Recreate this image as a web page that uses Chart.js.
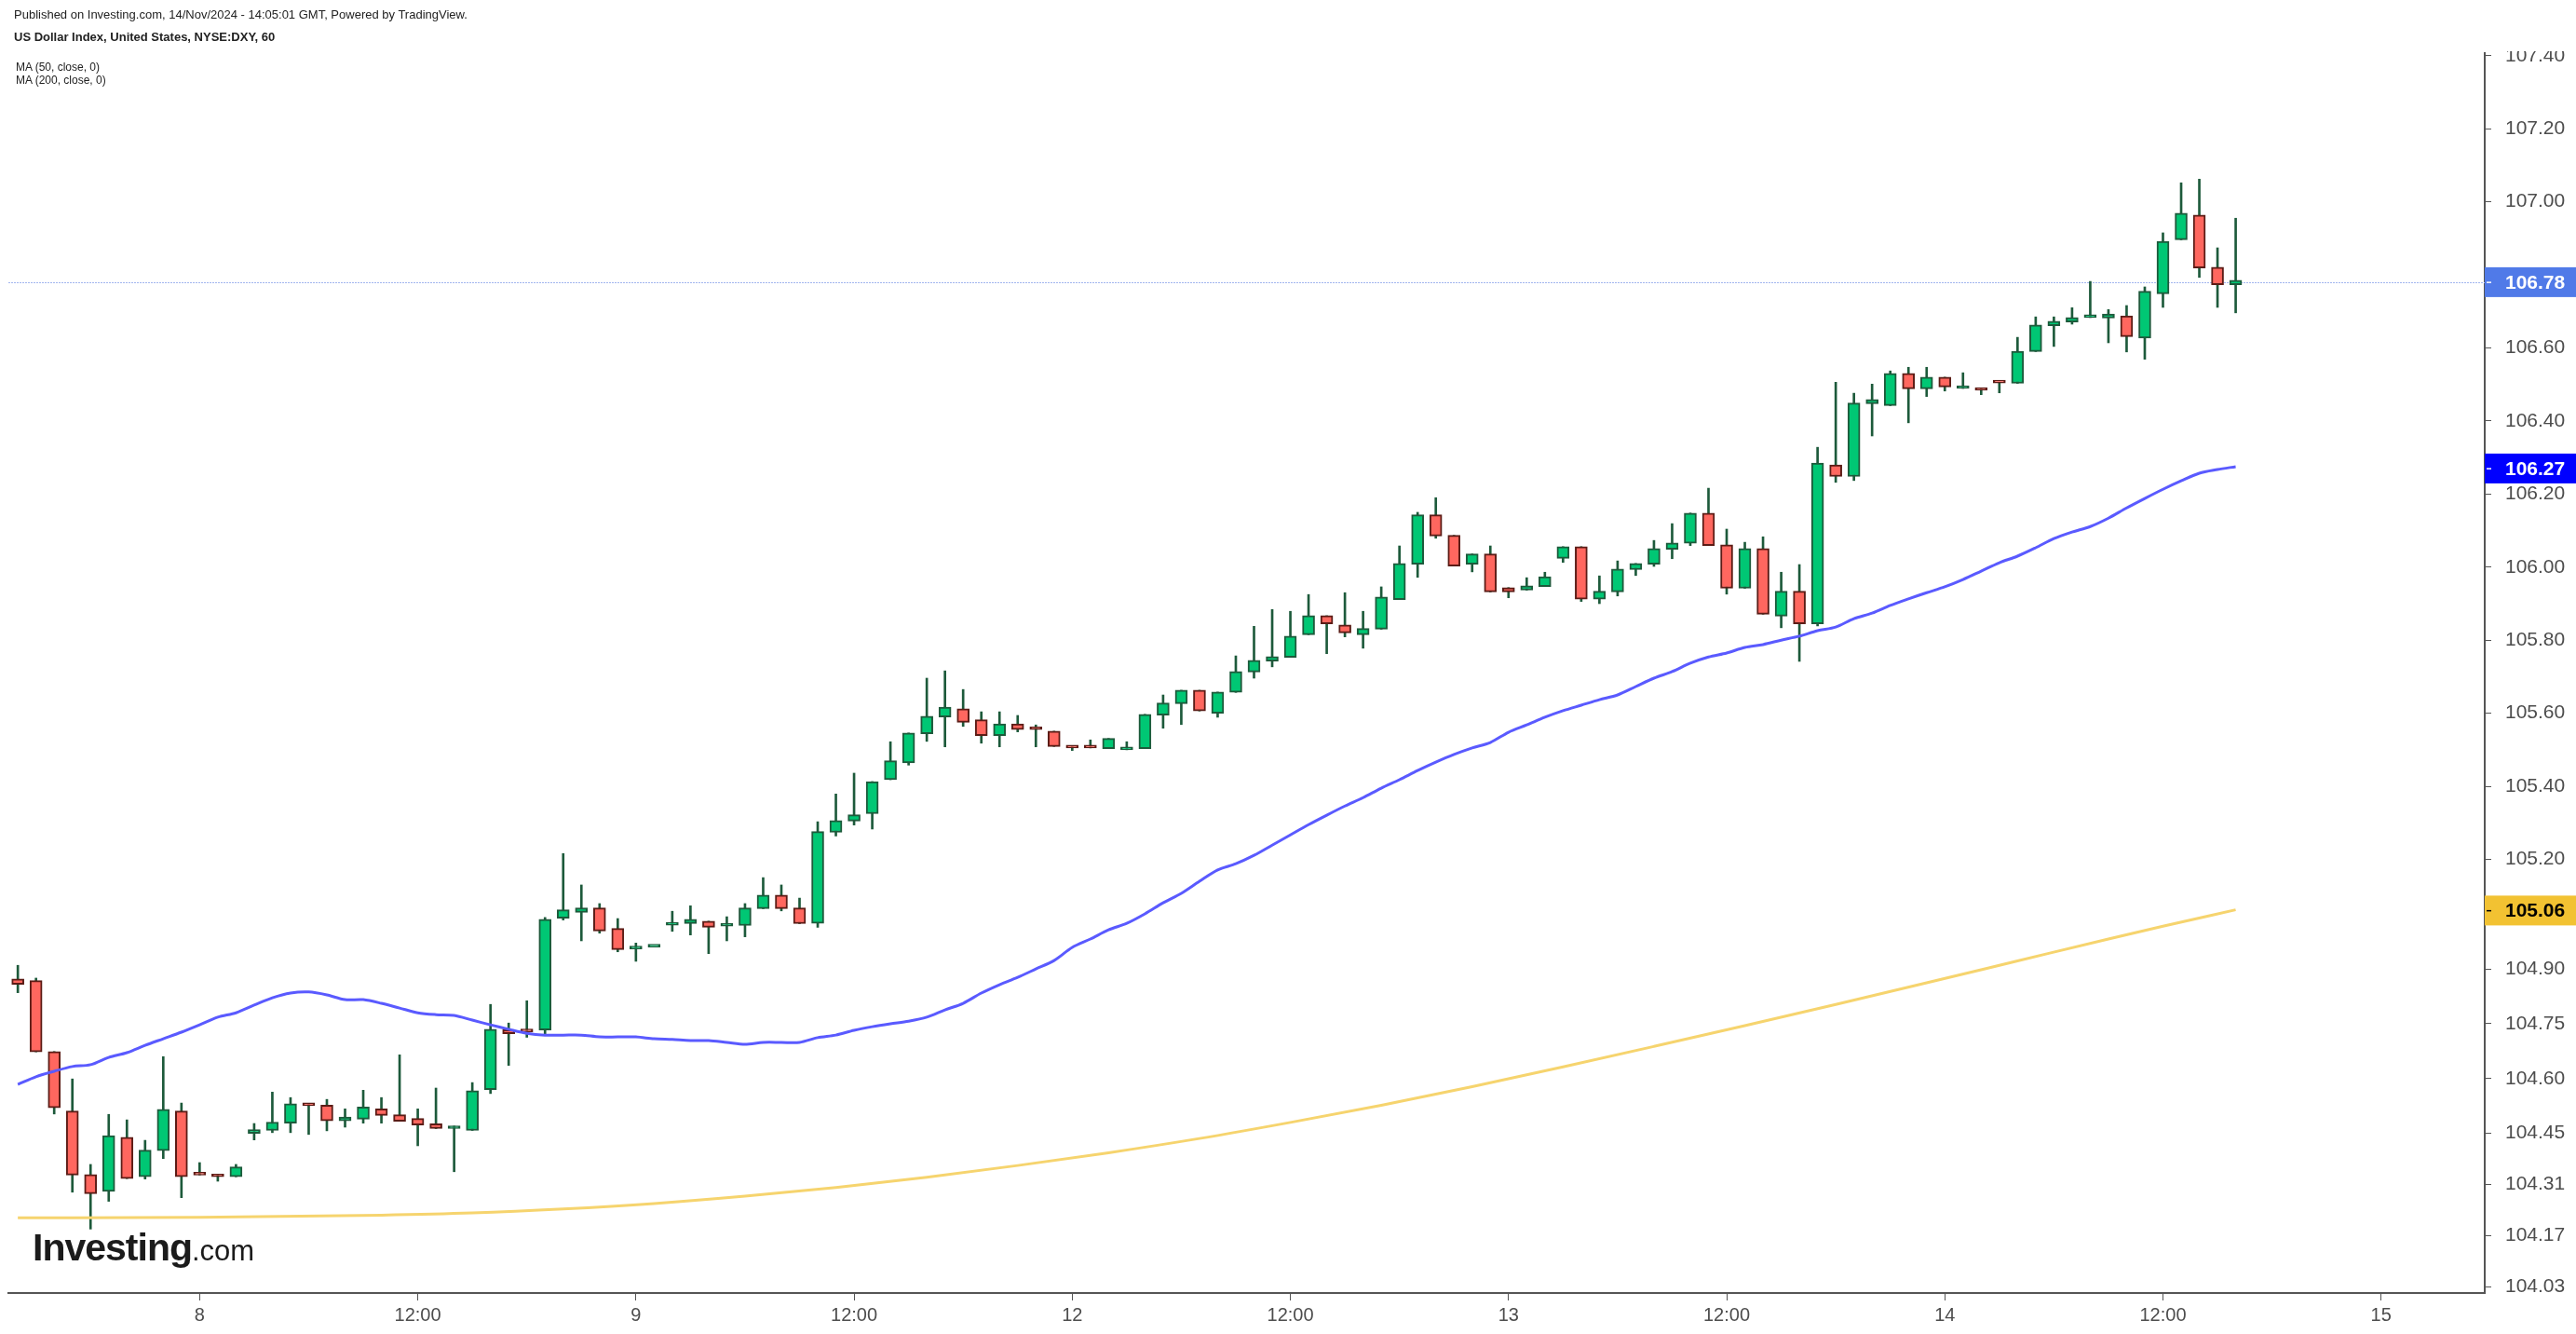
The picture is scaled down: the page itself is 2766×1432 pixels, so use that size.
<!DOCTYPE html>
<html><head><meta charset="utf-8">
<script src="https://cdn.jsdelivr.net/npm/chart.js@4.4.1/dist/chart.umd.min.js"></script>
<style>
html,body{margin:0;padding:0;background:#fff;overflow:hidden;}
#wrap{position:relative;width:2766px;height:1432px;}
canvas{position:absolute;left:0;top:0;}
.hdr{position:absolute;font-family:"Liberation Sans",Arial,sans-serif;color:#222;white-space:nowrap;}
</style></head><body>
<div id="wrap">
<canvas id="c" width="2766" height="1432"></canvas>
<div class="hdr" style="left:15px;top:8px;font-size:13px;">Published on Investing.com, 14/Nov/2024 - 14:05:01 GMT, Powered by TradingView.</div>
<div class="hdr" style="left:15px;top:32px;font-size:13px;font-weight:bold;">US Dollar Index, United States, NYSE:DXY, 60</div>
<div class="hdr" style="left:17px;top:65px;font-size:12px;line-height:14px;">MA (50, close, 0)<br>MA (200, close, 0)</div>
<div class="hdr" style="left:35px;top:1316px;font-size:41px;font-weight:bold;color:#1b1b1b;letter-spacing:-1px">Investing<span style="font-weight:normal;font-size:31px;letter-spacing:0">.com</span></div>
</div>
<script>
const opens = [104.873,104.868,104.674,104.511,104.337,104.291,104.439,104.331,104.403,104.511,
104.338,104.338,104.331,104.450,104.458,104.478,104.531,104.527,104.484,104.489,
104.517,104.501,104.491,104.476,104.463,104.458,104.570,104.734,104.730,104.733,
105.039,105.055,105.067,105.011,104.955,104.960,105.020,105.024,105.031,105.017,
105.019,105.065,105.102,105.067,105.025,105.274,105.305,105.325,105.418,105.464,
105.544,105.590,105.612,105.582,105.539,105.571,105.557,105.551,105.509,105.509,
105.503,105.500,105.503,105.595,105.626,105.663,105.600,105.657,105.713,105.743,
105.753,105.815,105.867,105.842,105.815,105.830,105.911,106.008,106.143,106.087,
106.008,106.036,105.944,105.937,105.947,106.024,106.056,105.912,105.932,105.993,
106.008,106.049,106.065,106.148,106.061,105.942,106.051,105.866,105.934,105.845,
106.280,106.248,106.447,106.442,106.530,106.488,106.520,106.489,106.488,106.506,
106.503,106.590,106.661,106.671,106.683,106.682,106.688,106.627,106.748,106.896,
106.964,106.821,106.773];
const highs = [104.910,104.875,104.674,104.599,104.365,104.502,104.487,104.431,104.660,104.533,
104.370,104.338,104.365,104.477,104.563,104.548,104.531,104.543,104.517,104.568,
104.548,104.665,104.517,104.574,104.470,104.589,104.803,104.752,104.813,105.041,
105.216,105.130,105.079,105.038,104.971,104.960,105.058,105.073,105.031,105.043,
105.079,105.150,105.130,105.094,105.303,105.379,105.436,105.413,105.522,105.546,
105.696,105.716,105.665,105.604,105.604,105.594,105.568,105.551,105.509,105.527,
105.531,105.522,105.597,105.650,105.663,105.663,105.658,105.757,105.838,105.884,
105.879,105.925,105.867,105.930,105.879,105.946,106.058,106.150,106.190,106.087,
106.036,106.058,105.944,105.971,105.986,106.056,106.056,105.976,106.017,106.010,
106.073,106.119,106.148,106.216,106.104,106.068,106.083,105.986,106.007,106.328,
106.506,106.476,106.501,106.537,106.547,106.547,106.520,106.532,106.488,106.506,
106.629,106.685,106.685,106.710,106.782,106.705,106.716,106.767,106.915,107.052,
107.062,106.874,106.955];
const lows = [104.835,104.673,104.503,104.289,104.188,104.264,104.326,104.325,104.381,104.274,
104.336,104.319,104.331,104.432,104.452,104.452,104.447,104.457,104.467,104.478,
104.478,104.483,104.416,104.463,104.345,104.458,104.559,104.636,104.713,104.722,
105.034,104.977,104.998,104.947,104.921,104.960,105.003,104.993,104.942,104.977,
104.988,105.065,105.059,105.024,105.014,105.264,105.294,105.283,105.418,105.458,
105.523,105.508,105.564,105.518,105.508,105.549,105.508,105.509,105.498,105.505,
105.503,105.500,105.503,105.559,105.569,105.606,105.589,105.657,105.696,105.727,
105.753,105.815,105.763,105.809,105.778,105.830,105.911,105.972,106.079,106.003,
105.987,105.932,105.916,105.937,105.947,106.013,105.906,105.900,105.921,105.977,
106.002,106.023,106.059,106.059,105.926,105.942,105.871,105.834,105.742,105.839,
106.232,106.237,106.359,106.442,106.395,106.467,106.482,106.489,106.472,106.477,
106.503,106.590,106.604,106.665,106.683,106.614,106.589,106.569,106.711,106.896,
106.793,106.711,106.696];
const closes = [104.858,104.673,104.520,104.336,104.285,104.444,104.326,104.404,104.516,104.331,
104.336,104.331,104.358,104.460,104.481,104.531,104.526,104.484,104.495,104.522,
104.499,104.483,104.473,104.463,104.467,104.567,104.735,104.723,104.728,105.036,
105.062,105.067,105.004,104.953,104.958,104.960,105.024,105.036,105.014,105.019,
105.067,105.102,105.065,105.024,105.276,105.306,105.322,105.413,105.470,105.546,
105.592,105.617,105.575,105.539,105.571,105.555,105.555,105.509,105.505,105.505,
105.531,105.504,105.597,105.628,105.663,105.606,105.658,105.714,105.745,105.755,
105.811,105.867,105.845,105.820,105.832,105.918,106.010,106.143,106.085,106.003,
106.036,105.932,105.932,105.949,105.974,106.056,105.912,105.934,105.995,106.010,
106.051,106.066,106.148,106.059,105.942,106.051,105.871,105.934,105.845,106.285,
106.248,106.449,106.459,106.530,106.488,106.520,106.493,106.493,106.484,106.504,
106.591,106.663,106.673,106.683,106.687,106.693,106.631,106.755,106.892,106.969,
106.819,106.773,106.785];
const ma50 = [104.584,104.605,104.620,104.633,104.638,104.658,104.671,104.691,104.709,104.727,
104.747,104.768,104.780,104.801,104.821,104.834,104.837,104.829,104.816,104.816,
104.806,104.793,104.780,104.775,104.773,104.760,104.747,104.735,104.724,104.719,
104.719,104.719,104.714,104.714,104.714,104.709,104.707,104.704,104.704,104.699,
104.694,104.699,104.699,104.699,104.712,104.719,104.732,104.742,104.750,104.757,
104.768,104.788,104.806,104.834,104.857,104.877,104.900,104.923,104.959,104.982,
105.007,105.025,105.051,105.081,105.107,105.140,105.171,105.188,105.211,105.239,
105.267,105.295,105.321,105.346,105.369,105.395,105.418,105.443,105.466,105.487,
105.505,105.520,105.548,105.568,105.589,105.607,105.622,105.637,105.650,105.673,
105.696,105.714,105.737,105.754,105.765,105.780,105.788,105.800,105.811,105.826,
105.836,105.859,105.874,105.895,105.913,105.930,105.946,105.966,105.989,106.012,
106.030,106.053,106.078,106.096,106.111,106.134,106.162,106.188,106.213,106.236,
106.257,106.267,106.275];
const ma200Idx = [0,10,20,25,30,35,40,45,50,55,60,65,70,75,80,85,90,95,100,105,110,115,118,122];
const ma200Val = [104.219,104.220,104.226,104.232,104.243,104.258,104.278,104.302,104.330,104.362,104.397,104.436,104.480,104.527,104.578,104.632,104.688,104.745,104.803,104.862,104.922,104.982,105.017,105.062];
const yTickValues = [107.40,107.20,107.00,106.60,106.40,106.20,106.00,105.80,105.60,105.40,105.20,104.90,104.75,104.60,104.45,104.31,104.17,104.03];
const xTickIdx = [10,22,34,46,58,70,82,94,106,118,130];
const xTickLabels = ['8','12:00','9','12:00','12','12:00','13','12:00','14','12:00','15'];
const tagValues = {last: 106.78, ma50: 106.27, ma200: 105.06};

const GREEN='#00c774', GREEN_B='#1d5a3b', RED='#ff675f', RED_B='#5b1c16', WICK='#1d5a3b';
const up = closes.map((c,i)=>c>=opens[i]);
const FONT='"Liberation Sans", Arial, sans-serif';
Chart.defaults.font.family = FONT;

const tagPlugin = {
  id:'tags',
  beforeDatasetsDraw(chart){
    const {ctx, chartArea:a, scales:{y}} = chart;
    const py = Math.round(y.getPixelForValue(tagValues.last))+0.5;
    ctx.save();
    ctx.strokeStyle='#a2b5ef'; ctx.lineWidth=1; ctx.setLineDash([2,1]);
    ctx.beginPath(); ctx.moveTo(a.left,py); ctx.lineTo(a.right,py); ctx.stroke();
    ctx.restore();
  },
  afterDraw(chart){
    const {ctx, chartArea:a, scales:{y}} = chart;
    ctx.save();
    ctx.fillStyle='#fff';
    ctx.fillRect(a.right+2,0,chart.width-a.right,a.top-2);
    ctx.fillRect(a.right+2,a.bottom+2,chart.width-a.right,chart.height-a.bottom);
    const tags=[[tagValues.last,'rgb(80,122,232)','#fff'],[tagValues.ma50,'#0000ff','#fff'],[tagValues.ma200,'#f2c232','#000']];
    ctx.font='bold 21px '+FONT; ctx.textBaseline='middle'; ctx.textAlign='left';
    for(const [v,bg,fg] of tags){
      const py=y.getPixelForValue(v);
      ctx.fillStyle=bg; ctx.fillRect(a.right, py-16, chart.width-a.right, 32);
      ctx.fillStyle=fg; ctx.fillRect(a.right+2, py-0.5, 5, 1.5);
      ctx.fillText(v.toFixed(2), a.right+22, py+1);
    }
    ctx.restore();
  }
};

new Chart(document.getElementById('c'), {
  type:'bar',
  data:{datasets:[
    {type:'line', label:'MA50', data: ma50.map((v,i)=>({x:i,y:v})), borderColor:'rgb(90,90,255)', borderWidth:3, pointRadius:0, tension:0.3, order:0},
    {type:'line', label:'MA200', data: ma200Idx.map((ix,k)=>({x:ix,y:ma200Val[k]})), borderColor:'rgb(246,212,110)', borderWidth:3, pointRadius:0, cubicInterpolationMode:'monotone', order:0},
    {label:'body', data: opens.map((o,i)=>({x:i,y:[o,closes[i]]})), backgroundColor: up.map(u=>u?GREEN:RED), borderColor: up.map(u=>u?GREEN_B:RED_B), borderWidth:2, borderSkipped:false, barThickness:13, minBarLength:3, grouped:false, order:1},
    {label:'wick', data: lows.map((l,i)=>({x:i,y:[l,highs[i]]})), backgroundColor: WICK, borderWidth:0, barThickness:2, grouped:false, order:2}
  ]},
  options:{
    responsive:false, devicePixelRatio:1, animation:false,
    layout:{padding:{left:9, top:57, right:0, bottom:0}},
    plugins:{legend:{display:false}, tooltip:{enabled:false}},
    scales:{
      x:{type:'linear', min:-0.52, max:135.7, offset:false,
        afterBuildTicks(s){ s.ticks = xTickIdx.map(v=>({value:v})); },
        afterFit(s){ s.height=44; },
        ticks:{callback:(v)=>{const k=xTickIdx.indexOf(v); return k>=0?xTickLabels[k]:'';}, autoSkip:false, maxRotation:0, color:'#4d4d4d', font:{size:20}, padding:4},
        grid:{offset:false, drawOnChartArea:false, tickLength:8, color:'#555', lineWidth:1},
        border:{color:'#555', width:2}
      },
      y:{position:'right', min:104.013, max:107.407,
        afterBuildTicks(s){ s.ticks = yTickValues.map(v=>({value:v})); },
        afterFit(s){ s.width=98; },
        ticks:{callback:(v)=>v.toFixed(2), color:'#4d4d4d', font:{size:21}, padding:15, autoSkip:false},
        grid:{offset:false, drawOnChartArea:false, tickLength:7, color:'#555', lineWidth:1},
        border:{color:'#555', width:2}
      }
    }
  },
  plugins:[tagPlugin]
});
</script>
</body></html>
